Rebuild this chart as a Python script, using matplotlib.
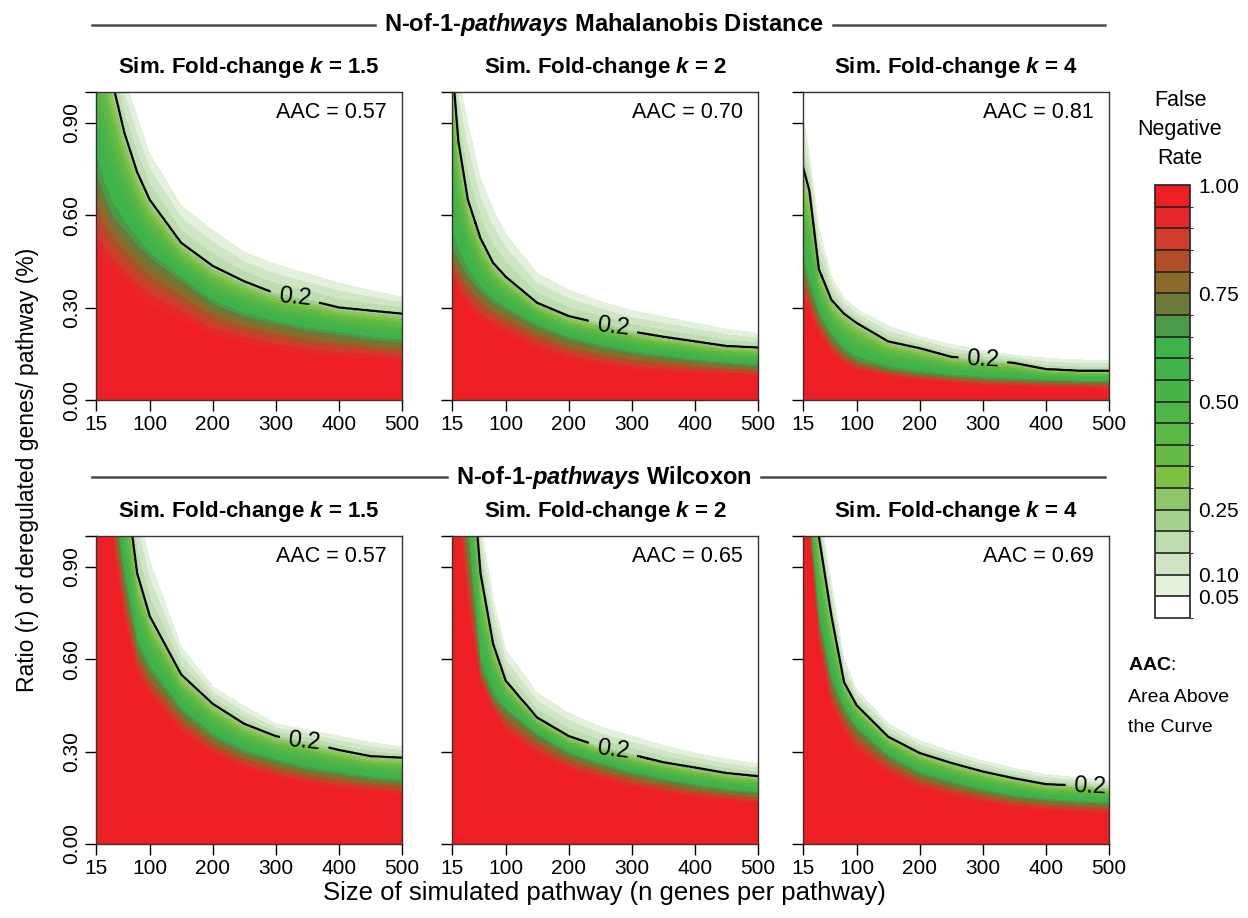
import numpy as np
import matplotlib
matplotlib.use('Agg')
import matplotlib.pyplot as plt
from matplotlib.colors import ListedColormap, BoundaryNorm
from matplotlib.lines import Line2D
import matplotlib.cm as cm

plt.rcParams['font.family'] = ['Liberation Sans', 'DejaVu Sans']
plt.rcParams['mathtext.fontset'] = 'custom'
plt.rcParams['mathtext.it'] = 'Liberation Sans:bold:italic'
plt.rcParams['mathtext.bf'] = 'Liberation Sans:bold'
plt.rcParams['mathtext.rm'] = 'Liberation Sans:bold'

n_genes = [15, 25, 40, 60, 80, 100, 150, 200, 250, 300, 350, 400, 450, 500]

# ratio r where the false negative rate falls to 0.95 / 0.70 / 0.20 / 0.05
maha_15_r95 = [0.50, 0.46, 0.42, 0.38, 0.34, 0.31, 0.26, 0.21, 0.185, 0.165, 0.15, 0.14, 0.135, 0.125]
maha_15_r70 = [0.73, 0.67, 0.60, 0.55, 0.50, 0.46, 0.385, 0.31, 0.27, 0.245, 0.225, 0.21, 0.195, 0.185]
maha_15_r20 = [1.35, 1.20, 1.04, 0.867, 0.74, 0.65, 0.51, 0.435, 0.385, 0.345, 0.325, 0.30, 0.29, 0.28]
maha_15_r05 = [1.45, 1.35, 1.20, 1.05, 0.92, 0.80, 0.63, 0.55, 0.48, 0.44, 0.41, 0.38, 0.355, 0.335]

maha_2_r95 = [0.40, 0.35, 0.30, 0.26, 0.235, 0.216, 0.165, 0.13, 0.112, 0.097, 0.09, 0.085, 0.08, 0.076]
maha_2_r70 = [0.49, 0.45, 0.40, 0.35, 0.315, 0.29, 0.235, 0.195, 0.17, 0.15, 0.137, 0.125, 0.115, 0.108]
maha_2_r20 = [1.10, 0.84, 0.65, 0.525, 0.445, 0.40, 0.315, 0.272, 0.248, 0.222, 0.205, 0.19, 0.175, 0.17]
maha_2_r05 = [1.20, 1.05, 0.90, 0.72, 0.62, 0.54, 0.41, 0.357, 0.32, 0.29, 0.27, 0.25, 0.23, 0.216]

maha_4_r95 = [0.345, 0.28, 0.21, 0.15, 0.115, 0.095, 0.075, 0.063, 0.055, 0.047, 0.044, 0.04, 0.038, 0.036]
maha_4_r70 = [0.43, 0.36, 0.27, 0.20, 0.155, 0.128, 0.10, 0.085, 0.075, 0.068, 0.064, 0.06, 0.058, 0.057]
maha_4_r20 = [0.756, 0.68, 0.425, 0.325, 0.28, 0.25, 0.19, 0.168, 0.14, 0.13, 0.12, 0.10, 0.095, 0.095]
maha_4_r05 = [0.92, 0.80, 0.56, 0.40, 0.33, 0.295, 0.24, 0.205, 0.18, 0.16, 0.145, 0.135, 0.13, 0.128]

wilc_15_r95 = [1.45, 1.25, 0.98, 0.72, 0.55, 0.48, 0.36, 0.29, 0.245, 0.215, 0.195, 0.18, 0.17, 0.16]
wilc_15_r70 = [1.60, 1.40, 1.15, 0.85, 0.64, 0.56, 0.43, 0.345, 0.295, 0.265, 0.24, 0.225, 0.21, 0.20]
wilc_15_r20 = [1.80, 1.65, 1.40, 1.20, 0.88, 0.74, 0.55, 0.455, 0.39, 0.35, 0.33, 0.305, 0.285, 0.28]
wilc_15_r05 = [1.90, 1.75, 1.50, 1.30, 1.10, 0.92, 0.64, 0.51, 0.447, 0.39, 0.37, 0.35, 0.33, 0.315]

wilc_2_r95 = [1.30, 1.05, 0.75, 0.52, 0.43, 0.36, 0.29, 0.24, 0.21, 0.185, 0.165, 0.15, 0.14, 0.13]
wilc_2_r70 = [1.50, 1.30, 0.98, 0.57, 0.475, 0.43, 0.35, 0.29, 0.255, 0.225, 0.205, 0.185, 0.172, 0.162]
wilc_2_r20 = [1.90, 1.70, 1.40, 0.88, 0.65, 0.53, 0.41, 0.35, 0.315, 0.29, 0.265, 0.248, 0.23, 0.22]
wilc_2_r05 = [2.00, 1.80, 1.55, 1.05, 0.80, 0.63, 0.49, 0.425, 0.38, 0.35, 0.32, 0.295, 0.275, 0.26]

wilc_4_r95 = [1.20, 1.00, 0.64, 0.44, 0.36, 0.30, 0.23, 0.18, 0.155, 0.135, 0.118, 0.108, 0.103, 0.098]
wilc_4_r70 = [1.30, 1.05, 0.72, 0.52, 0.43, 0.37, 0.28, 0.225, 0.195, 0.17, 0.15, 0.14, 0.133, 0.128]
wilc_4_r20 = [1.50, 1.25, 1.00, 0.74, 0.525, 0.45, 0.348, 0.295, 0.263, 0.235, 0.213, 0.194, 0.19, 0.18]
wilc_4_r05 = [1.60, 1.35, 1.10, 0.85, 0.60, 0.50, 0.39, 0.335, 0.30, 0.27, 0.245, 0.225, 0.215, 0.205]

fold_changes = ['1.5', '2', '4']
aac_maha = [0.57, 0.70, 0.81]
aac_wilc = [0.57, 0.65, 0.69]
label_n_maha = [330, 270, 300]
label_n_wilc = [345, 270, 470]

# 20 classes of the legend, from 0.00-0.05 up to 0.95-1.00
fnr_colors = ['#ffffff', '#e3f0dc', '#cfe5c6', '#bddcaf', '#a6d08e',
              '#8dc66a', '#7dc142', '#66bb44', '#5ab845', '#4fb547',
              '#47b348', '#40b249', '#3cb44a', '#4a9a48', '#6b7a38',
              '#8c6a2a', '#b04f27', '#d03c2c', '#e6272a', '#ed1f24']
fnr_levels = np.linspace(0, 1, 21)
cmap = ListedColormap(fnr_colors)
norm = BoundaryNorm(fnr_levels, cmap.N)

# drawing grid
r_grid = np.linspace(0, 2.1, 841)
n_grid = np.linspace(15, 500, 486)


def fnr_field(r95, r70, r20, r05):
    # boundaries followed between the read sizes, FNR filled in between them
    b95 = np.interp(n_grid, n_genes, r95)
    b70 = np.interp(n_grid, n_genes, r70)
    b20 = np.interp(n_grid, n_genes, r20)
    b05 = np.interp(n_grid, n_genes, r05)
    cols = []
    for a, b, c, d in zip(b95, b70, b20, b05):
        cols.append(np.interp(r_grid, [0, a, b, c, d, d + 0.03],
                              [1.0, 0.95, 0.7, 0.2, 0.05, 0.0]))
    return np.array(cols).T


W, H = 1248, 918
fig = plt.figure(figsize=(W / 100, H / 100), dpi=100)

col_left = [96, 452, 803]
row_top = [92, 536]
ax_w, ax_h = 306, 308

rows = [
    [(maha_15_r95, maha_15_r70, maha_15_r20, maha_15_r05),
     (maha_2_r95, maha_2_r70, maha_2_r20, maha_2_r05),
     (maha_4_r95, maha_4_r70, maha_4_r20, maha_4_r05)],
    [(wilc_15_r95, wilc_15_r70, wilc_15_r20, wilc_15_r05),
     (wilc_2_r95, wilc_2_r70, wilc_2_r20, wilc_2_r05),
     (wilc_4_r95, wilc_4_r70, wilc_4_r20, wilc_4_r05)],
]
aacs = [aac_maha, aac_wilc]
label_ns = [label_n_maha, label_n_wilc]

for i, row in enumerate(rows):
    for j, (r95, r70, r20, r05) in enumerate(row):
        left = col_left[j]
        top = row_top[i]
        ax = fig.add_axes([left / W, 1 - (top + ax_h) / H, ax_w / W, ax_h / H])
        z = fnr_field(r95, r70, r20, r05)
        ax.contourf(n_grid, r_grid, z, levels=fnr_levels, cmap=cmap, norm=norm)
        cs = ax.contour(n_grid, r_grid, z, levels=[0.2], colors='black', linewidths=1.6)
        n_lab = label_ns[i][j]
        ax.clabel(cs, inline=True, fontsize=17, fmt='%.1f', inline_spacing=8,
                  manual=[(n_lab, np.interp(n_lab, n_genes, r20))])
        ax.set_xlim(15, 500)
        ax.set_ylim(0, 1.0)
        ax.set_xticks([15, 100, 200, 300, 400, 500])
        ax.set_yticks([0, 0.3, 0.6, 0.9, 1.0])
        if j == 0:
            ax.set_yticklabels(['0.00', '0.30', '0.60', '0.90', ''], rotation=90, va='center')
        else:
            ax.set_yticklabels([])
        ax.tick_params(direction='out', length=8, width=1, labelsize=15, pad=3)
        for sp in ax.spines.values():
            sp.set_linewidth(1)
            sp.set_color('#333333')
        ax.text(0.951, 0.935, 'AAC = %.2f' % aacs[i][j], transform=ax.transAxes,
                ha='right', va='center', fontsize=15.5)
        fig.text((left + ax_w / 2) / W, 1 - (top - 24) / H,
                 'Sim. Fold-change $k$ = ' + fold_changes[j],
                 ha='center', va='center', fontsize=16, fontweight='bold')

# section headers with rules on both sides
renderer = fig.canvas.get_renderer()
for title, y in [('N-of-1-$pathways$ Mahalanobis Distance', 25),
                 ('N-of-1-$pathways$ Wilcoxon', 477)]:
    t = fig.text(604 / W, 1 - y / H, title, ha='center', va='center',
                 fontsize=17, fontweight='bold')
    bb = t.get_window_extent(renderer)
    fig.add_artist(Line2D([92 / W, (bb.x0 - 9) / W], [1 - y / H] * 2,
                          color='#4a4a4a', lw=1.8))
    fig.add_artist(Line2D([(bb.x1 + 9) / W, 1105 / W], [1 - y / H] * 2,
                          color='#4a4a4a', lw=1.8))

fig.text(604 / W, 1 - 893 / H, 'Size of simulated pathway (n genes per pathway)',
         ha='center', va='center', fontsize=18.5)
fig.text(28 / W, 1 - 470 / H, 'Ratio (r) of deregulated genes/ pathway (%)',
         ha='center', va='center', rotation=90, fontsize=16.5)

# legend bar
cax = fig.add_axes([1155 / W, 1 - 618 / H, 35 / W, 433 / H])
cb = fig.colorbar(cm.ScalarMappable(norm=norm, cmap=cmap), cax=cax,
                  drawedges=True, ticks=[0.05, 0.10, 0.25, 0.50, 0.75, 1.00])
cb.ax.set_yticklabels(['0.05', '0.10', '0.25', '0.50', '0.75', '1.00'])
cb.ax.tick_params(length=0, labelsize=15, pad=6)
cb.outline.set_linewidth(1.2)
cb.outline.set_edgecolor('#222222')
cb.dividers.set_linewidth(1.2)
cb.dividers.set_color('#222222')
for word, y in [('False', 101), ('Negative', 130), ('Rate', 158)]:
    fig.text(1180 / W, 1 - y / H, word, ha='center', va='center', fontsize=15.5)

fig.text(1128 / W, 1 - 666 / H, r'$\mathbf{AAC}$:', ha='left', va='center', fontsize=14)
for line, y in [('Area Above', 697), ('the Curve', 727)]:
    fig.text(1128 / W, 1 - y / H, line, ha='left', va='center', fontsize=14)

fig.savefig('out.png', dpi=100)
